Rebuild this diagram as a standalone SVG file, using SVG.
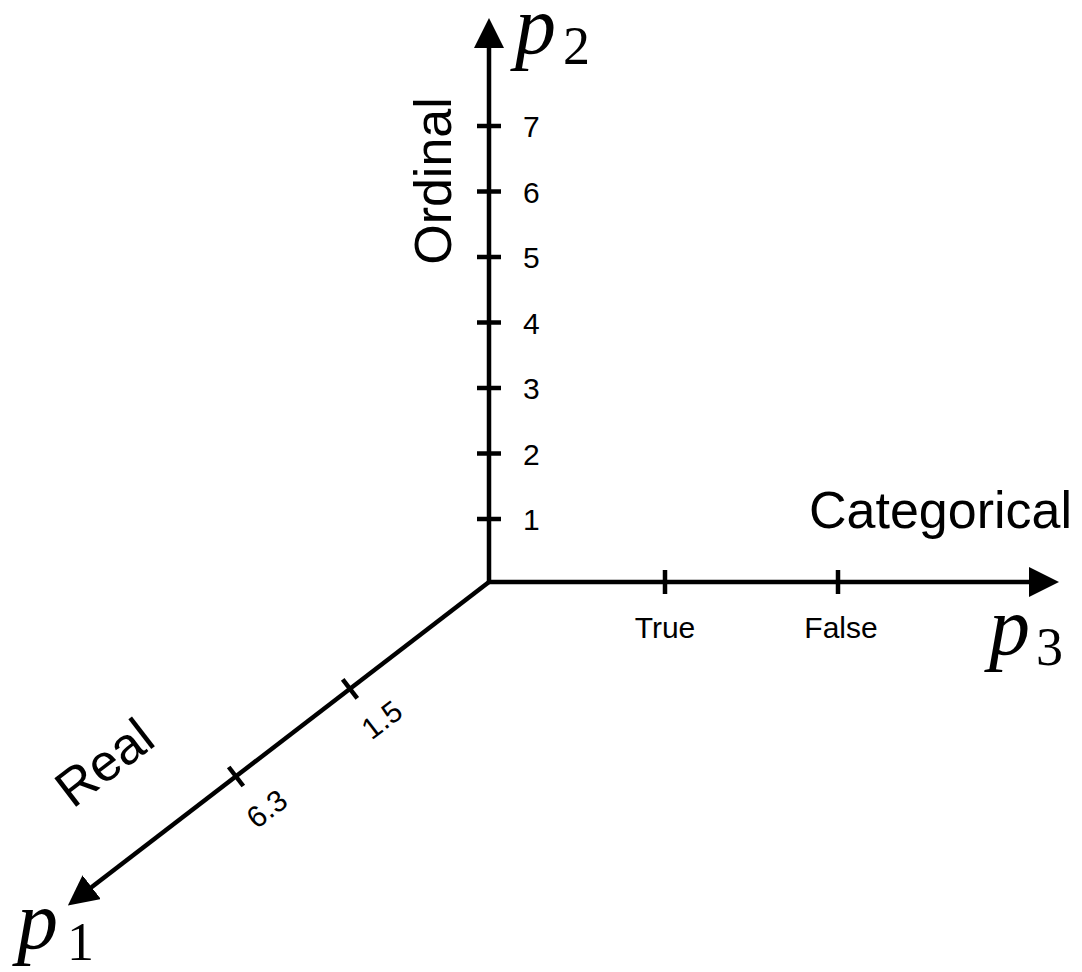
<svg xmlns="http://www.w3.org/2000/svg" width="1082" height="972" viewBox="0 0 1082 972">
  <defs>
    <marker id="arrow" markerUnits="userSpaceOnUse" markerWidth="30" markerHeight="30" viewBox="0 0 25 25" refX="5" refY="12.5" orient="auto">
      <path d="M0,0 L25,12.5 L0,25 z" fill="#000"/>
    </marker>
    <style>
      .axis { stroke: #000; stroke-width: 4.5; fill: none; }
      .tick { stroke: #000; stroke-width: 4.5; }
      .lbl { font-family: "Liberation Sans", Arial, sans-serif; font-size: 30px; fill: #000; }
      .title { font-family: "Liberation Sans", Arial, sans-serif; font-size: 52px; fill: #000; }
      .math { font-family: "Liberation Serif", "Times New Roman", serif; fill: #000; }
      .mi { font-style: italic; font-size: 82px; }
      .sub { font-style: normal; font-size: 54px; }
    </style>
  </defs>
  <rect width="1082" height="972" fill="#fff"/>

  <g id="connectors">
    <line class="axis" x1="489" y1="584" x2="489" y2="42" marker-end="url(#arrow)"/>
    <line class="axis" x1="487" y1="582" x2="1035" y2="582" marker-end="url(#arrow)"/>
    <line class="axis" x1="489" y1="582" x2="86.9" y2="890.8" marker-end="url(#arrow)"/>
  </g>

  <g id="p2-axis">
    <g class="tick">
      <line x1="477" y1="126" x2="501" y2="126"/>
      <line x1="477" y1="191.5" x2="501" y2="191.5"/>
      <line x1="477" y1="257" x2="501" y2="257"/>
      <line x1="477" y1="322.5" x2="501" y2="322.5"/>
      <line x1="477" y1="388" x2="501" y2="388"/>
      <line x1="477" y1="453.5" x2="501" y2="453.5"/>
      <line x1="477" y1="519" x2="501" y2="519"/>
    </g>
    <text class="lbl" x="523" y="137">7</text>
    <text class="lbl" x="523" y="202.5">6</text>
    <text class="lbl" x="523" y="268">5</text>
    <text class="lbl" x="523" y="333.5">4</text>
    <text class="lbl" x="523" y="399">3</text>
    <text class="lbl" x="523" y="464.5">2</text>
    <text class="lbl" x="523" y="530">1</text>
    <text class="title" transform="translate(432,181) rotate(-90)" x="0" y="19" text-anchor="middle">Ordinal</text>
    <text class="math" x="515" y="53"><tspan class="mi">p</tspan><tspan class="sub" dx="7" dy="11">2</tspan></text>
  </g>

  <g id="p3-axis">
    <line class="tick" x1="665" y1="570" x2="665" y2="594"/>
    <line class="tick" x1="838" y1="570" x2="838" y2="594"/>
    <text class="lbl" x="665" y="638" text-anchor="middle">True</text>
    <text class="lbl" x="841" y="638" text-anchor="middle">False</text>
    <text class="title" x="1072" y="528" text-anchor="end">Categorical</text>
    <text class="math" x="989" y="654"><tspan class="mi">p</tspan><tspan class="sub" dx="6" dy="11">3</tspan></text>
  </g>

  <g id="p1-axis">
    <line class="tick" x1="342.7" y1="679.3" x2="357.3" y2="698.3"/>
    <line class="tick" x1="228.7" y1="767" x2="243.3" y2="786"/>
    <text class="lbl" transform="translate(382,720) rotate(-37.5)" x="0" y="10" text-anchor="middle">1.5</text>
    <text class="lbl" transform="translate(267,809) rotate(-37.5)" x="0" y="10" text-anchor="middle">6.3</text>
    <text class="title" transform="translate(104,762) rotate(-37.5)" x="0" y="18.5" text-anchor="middle">Real</text>
    <text class="math" x="17" y="948"><tspan class="mi">p</tspan><tspan class="sub" dx="9" dy="12">1</tspan></text>
  </g>
</svg>
